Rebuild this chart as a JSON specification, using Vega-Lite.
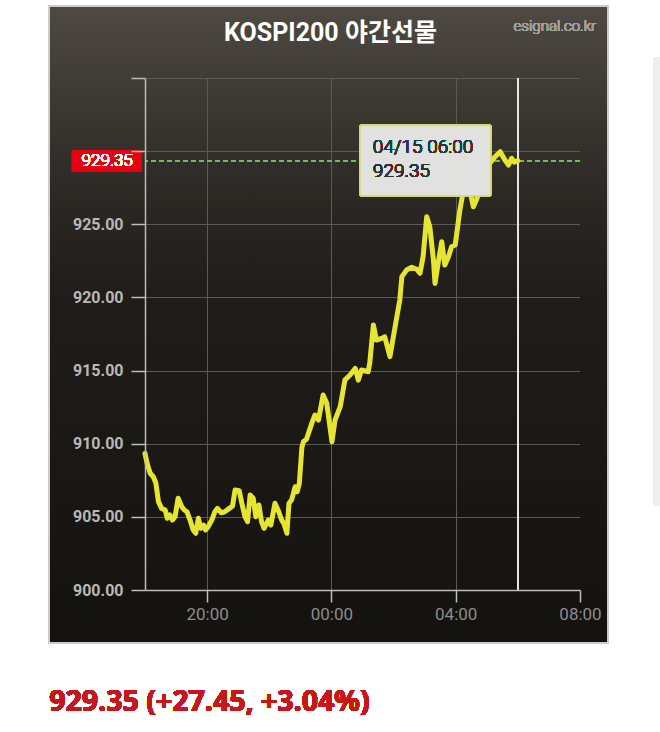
{
  "$schema": "https://vega.github.io/schema/vega-lite/v6.json",
  "width": 435,
  "height": 512,
  "autosize": {"type": "none"},
  "padding": {"left": 145, "top": 78, "right": 80, "bottom": 142},
  "background": "#ffffff",
  "config": {"font": "Roboto"},
  "view": {
    "stroke": null,
    "fill": {
      "gradient": "linear",
      "x1": 0, "y1": 0, "x2": 0, "y2": 1,
      "stops": [
        {"offset": 0, "color": "#403d36"},
        {"offset": 0.24, "color": "#2b2824"},
        {"offset": 0.43, "color": "#1f1c19"},
        {"offset": 1, "color": "#161411"}
      ]
    }
  },
  "title": {
    "text": "KOSPI200 야간선물",
    "anchor": "middle",
    "frame": "group",
    "dx": -32,
    "offset": -61,
    "baseline": "alphabetic",
    "fontSize": 25,
    "fontWeight": "bold",
    "color": "#ffffff",
    "font": "Roboto, Noto Sans CJK KR, sans-serif"
  },
  "resolve": {"axis": {"x": "independent", "y": "independent"}},
  "data": {
    "values": [
      {"time": "2025-04-14T18:00Z", "price": 909.34},
      {"time": "2025-04-14T18:04Z", "price": 908.66},
      {"time": "2025-04-14T18:10Z", "price": 907.98},
      {"time": "2025-04-14T18:16Z", "price": 907.74},
      {"time": "2025-04-14T18:21Z", "price": 907.31},
      {"time": "2025-04-14T18:26Z", "price": 906.04},
      {"time": "2025-04-14T18:32Z", "price": 905.58},
      {"time": "2025-04-14T18:39Z", "price": 905.47},
      {"time": "2025-04-14T18:43Z", "price": 904.90},
      {"time": "2025-04-14T18:48Z", "price": 905.13},
      {"time": "2025-04-14T18:53Z", "price": 904.78},
      {"time": "2025-04-14T18:58Z", "price": 905.01},
      {"time": "2025-04-14T19:04Z", "price": 906.27},
      {"time": "2025-04-14T19:11Z", "price": 905.69},
      {"time": "2025-04-14T19:16Z", "price": 905.47},
      {"time": "2025-04-14T19:21Z", "price": 905.35},
      {"time": "2025-04-14T19:27Z", "price": 904.78},
      {"time": "2025-04-14T19:33Z", "price": 904.10},
      {"time": "2025-04-14T19:38Z", "price": 903.88},
      {"time": "2025-04-14T19:43Z", "price": 904.90},
      {"time": "2025-04-14T19:48Z", "price": 904.22},
      {"time": "2025-04-14T19:53Z", "price": 904.44},
      {"time": "2025-04-14T19:57Z", "price": 904.10},
      {"time": "2025-04-14T20:02Z", "price": 904.33},
      {"time": "2025-04-14T20:09Z", "price": 904.78},
      {"time": "2025-04-14T20:15Z", "price": 905.35},
      {"time": "2025-04-14T20:20Z", "price": 905.58},
      {"time": "2025-04-14T20:27Z", "price": 905.28},
      {"time": "2025-04-14T20:34Z", "price": 905.35},
      {"time": "2025-04-14T20:43Z", "price": 905.58},
      {"time": "2025-04-14T20:49Z", "price": 905.74},
      {"time": "2025-04-14T20:54Z", "price": 906.84},
      {"time": "2025-04-14T21:02Z", "price": 906.79},
      {"time": "2025-04-14T21:07Z", "price": 905.93},
      {"time": "2025-04-14T21:13Z", "price": 905.01},
      {"time": "2025-04-14T21:18Z", "price": 904.67},
      {"time": "2025-04-14T21:23Z", "price": 906.49},
      {"time": "2025-04-14T21:29Z", "price": 906.27},
      {"time": "2025-04-14T21:34Z", "price": 905.01},
      {"time": "2025-04-14T21:40Z", "price": 905.81},
      {"time": "2025-04-14T21:45Z", "price": 904.67},
      {"time": "2025-04-14T21:50Z", "price": 904.22},
      {"time": "2025-04-14T21:58Z", "price": 904.78},
      {"time": "2025-04-14T22:03Z", "price": 904.44},
      {"time": "2025-04-14T22:11Z", "price": 905.93},
      {"time": "2025-04-14T22:17Z", "price": 905.47},
      {"time": "2025-04-14T22:24Z", "price": 904.78},
      {"time": "2025-04-14T22:28Z", "price": 904.56},
      {"time": "2025-04-14T22:34Z", "price": 903.88},
      {"time": "2025-04-14T22:38Z", "price": 905.93},
      {"time": "2025-04-14T22:43Z", "price": 906.15},
      {"time": "2025-04-14T22:50Z", "price": 907.06},
      {"time": "2025-04-14T22:54Z", "price": 906.72},
      {"time": "2025-04-14T22:58Z", "price": 907.29},
      {"time": "2025-04-14T23:03Z", "price": 909.77},
      {"time": "2025-04-14T23:06Z", "price": 910.14},
      {"time": "2025-04-14T23:12Z", "price": 910.32},
      {"time": "2025-04-14T23:22Z", "price": 911.39},
      {"time": "2025-04-14T23:28Z", "price": 911.96},
      {"time": "2025-04-14T23:35Z", "price": 911.62},
      {"time": "2025-04-14T23:44Z", "price": 913.33},
      {"time": "2025-04-14T23:51Z", "price": 912.76},
      {"time": "2025-04-15T00:01Z", "price": 910.14},
      {"time": "2025-04-15T00:07Z", "price": 911.62},
      {"time": "2025-04-15T00:17Z", "price": 912.53},
      {"time": "2025-04-15T00:26Z", "price": 914.35},
      {"time": "2025-04-15T00:36Z", "price": 914.70},
      {"time": "2025-04-15T00:46Z", "price": 915.15},
      {"time": "2025-04-15T00:52Z", "price": 914.35},
      {"time": "2025-04-15T00:58Z", "price": 915.04},
      {"time": "2025-04-15T01:11Z", "price": 914.92},
      {"time": "2025-04-15T01:14Z", "price": 915.52},
      {"time": "2025-04-15T01:21Z", "price": 918.11},
      {"time": "2025-04-15T01:27Z", "price": 917.09},
      {"time": "2025-04-15T01:37Z", "price": 917.20},
      {"time": "2025-04-15T01:43Z", "price": 917.31},
      {"time": "2025-04-15T01:53Z", "price": 915.95},
      {"time": "2025-04-15T02:03Z", "price": 918.00},
      {"time": "2025-04-15T02:12Z", "price": 919.82},
      {"time": "2025-04-15T02:16Z", "price": 921.42},
      {"time": "2025-04-15T02:25Z", "price": 921.87},
      {"time": "2025-04-15T02:35Z", "price": 922.06},
      {"time": "2025-04-15T02:45Z", "price": 921.92},
      {"time": "2025-04-15T02:51Z", "price": 921.65},
      {"time": "2025-04-15T02:57Z", "price": 922.78},
      {"time": "2025-04-15T03:04Z", "price": 925.52},
      {"time": "2025-04-15T03:10Z", "price": 924.83},
      {"time": "2025-04-15T03:17Z", "price": 922.56},
      {"time": "2025-04-15T03:20Z", "price": 920.96},
      {"time": "2025-04-15T03:26Z", "price": 922.33},
      {"time": "2025-04-15T03:33Z", "price": 923.81},
      {"time": "2025-04-15T03:39Z", "price": 922.21},
      {"time": "2025-04-15T03:46Z", "price": 922.78},
      {"time": "2025-04-15T03:52Z", "price": 923.47},
      {"time": "2025-04-15T03:59Z", "price": 923.58},
      {"time": "2025-04-15T04:08Z", "price": 925.97},
      {"time": "2025-04-15T04:15Z", "price": 927.34},
      {"time": "2025-04-15T04:22Z", "price": 927.57},
      {"time": "2025-04-15T04:28Z", "price": 927.23},
      {"time": "2025-04-15T04:34Z", "price": 926.20},
      {"time": "2025-04-15T04:41Z", "price": 926.77},
      {"time": "2025-04-15T04:47Z", "price": 927.34},
      {"time": "2025-04-15T04:50Z", "price": 930.08},
      {"time": "2025-04-15T04:53Z", "price": 931.67},
      {"time": "2025-04-15T05:00Z", "price": 931.22},
      {"time": "2025-04-15T05:06Z", "price": 929.17},
      {"time": "2025-04-15T05:16Z", "price": 929.62},
      {"time": "2025-04-15T05:26Z", "price": 929.96},
      {"time": "2025-04-15T05:35Z", "price": 929.39},
      {"time": "2025-04-15T05:42Z", "price": 929.05},
      {"time": "2025-04-15T05:48Z", "price": 929.51},
      {"time": "2025-04-15T05:53Z", "price": 929.25},
      {"time": "2025-04-15T06:00Z", "price": 929.35}
    ]
  },
  "layer": [
    {
      "mark": {"type": "rect", "color": {"gradient": "linear", "x1": 0, "y1": 0, "x2": 0, "y2": 1, "stops": [{"offset": 0, "color": "#4e4a42"}, {"offset": 1, "color": "#403d36"}]}},
      "encoding": {
        "x": {"datum": {"year": 2025, "month": 4, "date": 14, "hours": 14, "minutes": 55, "utc": true}, "type": "temporal", "axis": null,
              "scale": {"type": "utc", "domain": [{"year": 2025, "month": 4, "date": 14, "hours": 18, "utc": true}, {"year": 2025, "month": 4, "date": 15, "hours": 8, "utc": true}], "nice": false}},
        "x2": {"datum": {"year": 2025, "month": 4, "date": 15, "hours": 8, "minutes": 54, "utc": true}},
        "y": {"datum": 939.92, "type": "quantitative", "axis": null, "scale": {"domain": [900, 935], "zero": false, "nice": false}},
        "y2": {"datum": 935}
      }
    },
    {
      "mark": {"type": "rect", "color": {"gradient": "linear", "x1": 0, "y1": 0, "x2": 0, "y2": 1, "stops": [{"offset": 0, "color": "#403d36"}, {"offset": 0.24, "color": "#2b2824"}, {"offset": 0.43, "color": "#1f1c19"}, {"offset": 1, "color": "#161411"}]}},
      "encoding": {
        "x": {"datum": {"year": 2025, "month": 4, "date": 14, "hours": 14, "minutes": 55, "utc": true}, "type": "temporal", "axis": null},
        "x2": {"datum": {"year": 2025, "month": 4, "date": 14, "hours": 18, "utc": true}},
        "y": {"datum": 935, "type": "quantitative", "axis": null},
        "y2": {"datum": 900}
      }
    },
    {
      "mark": {"type": "rect", "color": {"gradient": "linear", "x1": 0, "y1": 0, "x2": 0, "y2": 1, "stops": [{"offset": 0, "color": "#403d36"}, {"offset": 0.24, "color": "#2b2824"}, {"offset": 0.43, "color": "#1f1c19"}, {"offset": 1, "color": "#161411"}]}},
      "encoding": {
        "x": {"datum": {"year": 2025, "month": 4, "date": 15, "hours": 8, "utc": true}, "type": "temporal", "axis": null},
        "x2": {"datum": {"year": 2025, "month": 4, "date": 15, "hours": 8, "minutes": 54, "utc": true}},
        "y": {"datum": 935, "type": "quantitative", "axis": null},
        "y2": {"datum": 900}
      }
    },
    {
      "mark": {"type": "rect", "color": "#151310"},
      "encoding": {
        "x": {"datum": {"year": 2025, "month": 4, "date": 14, "hours": 14, "minutes": 55, "utc": true}, "type": "temporal", "axis": null},
        "x2": {"datum": {"year": 2025, "month": 4, "date": 15, "hours": 8, "minutes": 54, "utc": true}},
        "y": {"datum": 900, "type": "quantitative", "axis": null},
        "y2": {"datum": 896.38}
      }
    },
    {
      "mark": {"type": "rect", "fill": null, "stroke": "#cccccc", "strokeWidth": 1.5},
      "encoding": {
        "x": {"datum": {"year": 2025, "month": 4, "date": 14, "hours": 14, "minutes": 55, "utc": true}, "type": "temporal", "axis": null},
        "x2": {"datum": {"year": 2025, "month": 4, "date": 15, "hours": 8, "minutes": 54, "utc": true}},
        "y": {"datum": 939.92, "type": "quantitative", "axis": null},
        "y2": {"datum": 896.38}
      }
    },
    {
      "mark": {"type": "rect", "color": "#efefef"},
      "encoding": {
        "x": {"datum": {"year": 2025, "month": 4, "date": 15, "hours": 10, "minutes": 21, "utc": true}, "type": "temporal", "axis": null},
        "x2": {"datum": {"year": 2025, "month": 4, "date": 15, "hours": 10, "minutes": 50, "utc": true}},
        "y": {"datum": 936.44, "type": "quantitative", "axis": null},
        "y2": {"datum": 905.74}
      }
    },
    {
      "mark": {"type": "rule", "color": "#e6e6e6", "strokeWidth": 1.5},
      "encoding": {
        "x": {
          "datum": {"year": 2025, "month": 4, "date": 15, "hours": 6, "utc": true}, "type": "temporal",
          "axis": {
            "orient": "bottom",
            "title": null,
            "values": [
              {"year": 2025, "month": 4, "date": 14, "hours": 20, "utc": true},
              {"year": 2025, "month": 4, "date": 15, "hours": 0, "utc": true},
              {"year": 2025, "month": 4, "date": 15, "hours": 4, "utc": true},
              {"year": 2025, "month": 4, "date": 15, "hours": 8, "utc": true}
            ],
            "grid": true,
            "gridColor": "#5a5a5a",
            "gridWidth": 1,
            "domain": false,
            "ticks": false,
            "labels": false,
            "zindex": 0
          }
        }
      }
    },
    {
      "mark": {"type": "rule", "color": "#72c046", "strokeWidth": 1.5, "strokeDash": [5, 3]},
      "encoding": {
        "y": {
          "datum": 929.35, "type": "quantitative",
          "axis": {
            "orient": "left",
            "title": null,
            "values": [900, 905, 910, 915, 920, 925, 930, 935],
            "grid": true,
            "gridColor": "#5a5a5a",
            "gridWidth": 1,
            "domain": false,
            "ticks": false,
            "labels": false,
            "zindex": 0
          }
        }
      }
    },
    {
      "mark": {"type": "line", "color": "#e6e632", "strokeWidth": 5, "strokeJoin": "round", "strokeCap": "round"},
      "encoding": {
        "x": {
          "field": "time", "type": "temporal",
          "scale": {"type": "utc", "domain": [{"year": 2025, "month": 4, "date": 14, "hours": 18, "utc": true}, {"year": 2025, "month": 4, "date": 15, "hours": 8, "utc": true}], "nice": false},
          "axis": {
            "orient": "bottom",
            "title": null,
            "values": [
              {"year": 2025, "month": 4, "date": 14, "hours": 20, "utc": true},
              {"year": 2025, "month": 4, "date": 15, "hours": 0, "utc": true},
              {"year": 2025, "month": 4, "date": 15, "hours": 4, "utc": true},
              {"year": 2025, "month": 4, "date": 15, "hours": 8, "utc": true}
            ],
            "format": "%H:%M",
            "grid": false,
            "domainColor": "#bdbdbd",
            "domainWidth": 1.5,
            "tickColor": "#bdbdbd",
            "tickWidth": 1.5,
            "tickSize": 12,
            "labelColor": "#8c8c8c",
            "labelFont": "Roboto",
            "labelFontWeight": "normal",
            "labelFontSize": 17,
            "labelPadding": 4,
            "labelFlush": false,
            "zindex": 1
          }
        },
        "y": {
          "field": "price", "type": "quantitative",
          "scale": {"domain": [900, 935], "zero": false, "nice": false},
          "axis": {
            "orient": "left",
            "title": null,
            "values": [900, 905, 910, 915, 920, 925, 930, 935],
            "labelExpr": "datum.value >= 930 ? '' : format(datum.value, '.2f')",
            "grid": false,
            "domainColor": "#bdbdbd",
            "domainWidth": 1.5,
            "tickColor": "#bdbdbd",
            "tickWidth": 1.5,
            "tickSize": 14,
            "labelColor": "#b8b8b8",
            "labelFont": "Roboto",
            "labelFontSize": 16,
            "labelFontWeight": "bold",
            "labelPadding": 8,
            "zindex": 1
          }
        }
      }
    },
    {
      "mark": {"type": "rect", "color": "#e60012"},
      "encoding": {
        "x": {"datum": {"year": 2025, "month": 4, "date": 14, "hours": 15, "minutes": 39, "utc": true}, "type": "temporal", "axis": null},
        "x2": {"datum": {"year": 2025, "month": 4, "date": 14, "hours": 17, "minutes": 54, "utc": true}},
        "y": {"datum": 930.08, "type": "quantitative", "axis": null},
        "y2": {"datum": 928.57}
      }
    },
    {
      "mark": {"type": "text", "color": "#ffffff", "fontSize": 17, "font": "Roboto", "fontWeight": 300, "align": "center", "baseline": "middle"},
      "encoding": {
        "x": {"datum": {"year": 2025, "month": 4, "date": 14, "hours": 16, "minutes": 47, "utc": true}, "type": "temporal", "axis": null},
        "y": {"datum": 929.32, "type": "quantitative", "axis": null},
        "text": {"value": "929.35"}
      }
    },
    {
      "mark": {"type": "rect", "color": "#e2e2e0", "opacity": 0.88, "stroke": "#d8d86a", "strokeWidth": 1.5, "strokeOpacity": 1, "cornerRadius": 3},
      "encoding": {
        "x": {"datum": {"year": 2025, "month": 4, "date": 15, "hours": 0, "minutes": 55, "utc": true}, "type": "temporal", "axis": null},
        "x2": {"datum": {"year": 2025, "month": 4, "date": 15, "hours": 5, "minutes": 8, "utc": true}},
        "y": {"datum": 931.78, "type": "quantitative", "axis": null},
        "y2": {"datum": 926.93}
      }
    },
    {
      "mark": {"type": "text", "color": "#333333", "fontSize": 19, "font": "Roboto", "fontWeight": 300, "align": "left", "baseline": "alphabetic", "lineHeight": 24},
      "encoding": {
        "x": {"datum": {"year": 2025, "month": 4, "date": 15, "hours": 1, "minutes": 20, "utc": true}, "type": "temporal", "axis": null},
        "y": {"datum": 929.87, "type": "quantitative", "axis": null},
        "text": {"value": ["04/15 06:00", "929.35"]}
      }
    },
    {
      "mark": {"type": "text", "color": "#a0a0a0", "fontSize": 15, "font": "Roboto", "fontWeight": 300, "align": "right", "baseline": "alphabetic"},
      "encoding": {
        "x": {"datum": {"year": 2025, "month": 4, "date": 15, "hours": 8, "minutes": 31, "utc": true}, "type": "temporal", "axis": null},
        "y": {"datum": 938.21, "type": "quantitative", "axis": null},
        "text": {"value": "esignal.co.kr"}
      }
    },
    {
      "mark": {"type": "text", "color": "#c8161d", "fontSize": 28.5, "font": "Open Sans", "fontWeight": "bold", "align": "left", "baseline": "alphabetic"},
      "encoding": {
        "x": {"datum": {"year": 2025, "month": 4, "date": 14, "hours": 14, "minutes": 55, "utc": true}, "type": "temporal", "axis": null},
        "y": {"datum": 891.73, "type": "quantitative", "axis": null},
        "text": {"value": "929.35 (+27.45, +3.04%)"}
      }
    }
  ]
}
